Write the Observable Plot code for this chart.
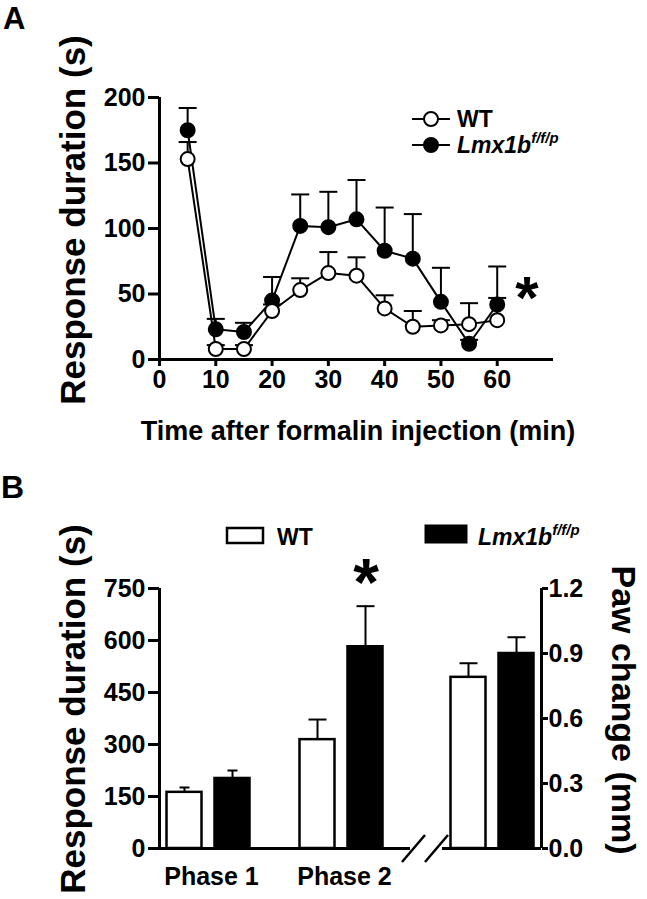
<!DOCTYPE html>
<html>
<head>
<meta charset="utf-8">
<script src="https://cdn.jsdelivr.net/npm/d3@7"></script>
<script src="https://cdn.jsdelivr.net/npm/@observablehq/plot@0.6"></script>
<style>
  html, body { margin: 0; padding: 0; background: white; }
  #chart { width: 647px; height: 899px; position: relative; }
  #chart svg { display: block; }
</style>
</head>
<body>
<div id="chart"></div>
<script>
// ---------- Panel A data ----------
const times = [5, 10, 15, 20, 25, 30, 35, 40, 45, 50, 55, 60];
const wtMean = [153, 8, 8, 37, 53, 66, 64, 39, 25, 26, 27, 30];
const wtSem  = [13, 3, 3, 5, 9, 16, 14, 10, 12, 4, 16, 17];
const koMean = [175, 23, 21, 45, 102, 101, 107, 83, 77, 44, 12, 42];
const koSem  = [17, 8, 7, 18, 24, 27, 30, 33, 34, 26, 3, 29];
const xTicksA = [0, 10, 20, 30, 40, 50, 60];
const yTicksA = [0, 50, 100, 150, 200];

// ---------- Panel B data ----------
const phases = ["Phase 1", "Phase 2"];
const wtPhase = [162, 314];
const wtPhaseSem = [14, 58];
const koPhase = [202, 582];
const koPhaseSem = [23, 117];
const pawWT = 0.79, pawWTSem = 0.065;
const koPaw = 0.90, koPawSem = 0.075;
const yTicksB = [0, 150, 300, 450, 600, 750];
const yTicksPaw = [0, 0.3, 0.6, 0.9, 1.2];

const FONT = "'Liberation Sans', Arial, Helvetica, sans-serif";

// ---------- Panel A ----------
const wt = times.map((t, i) => ({t, mean: wtMean[i], sem: wtSem[i]}));
const ko = times.map((t, i) => ({t, mean: koMean[i], sem: koSem[i]}));

function series(data, fill) {
  return [
    Plot.ruleX(data, {x: "t", y1: "mean", y2: d => d.mean + d.sem, stroke: "black", strokeWidth: 2}),
    Plot.link(data, {x1: d => d.t - 1.6, x2: d => d.t + 1.6, y1: d => d.mean + d.sem, y2: d => d.mean + d.sem, stroke: "black", strokeWidth: 2}),
    Plot.line(data, {x: "t", y: "mean", stroke: "black", strokeWidth: 2}),
    Plot.dot(data, {x: "t", y: "mean", r: 7, fill, stroke: "black", strokeWidth: 2})
  ];
}

const plotA = Plot.plot({
  width: 647, height: 455,
  marginTop: 97, marginLeft: 159, marginRight: 94, marginBottom: 96,
  x: {domain: [0, 70]},
  y: {domain: [0, 200]},
  style: {fontFamily: FONT, fontWeight: "bold", fontSize: "25px", color: "black", background: "white", overflow: "visible"},
  marks: [
    Plot.axisY({ticks: yTicksA, tickSize: 11, tickPadding: 3, strokeWidth: 3, label: null}),
    Plot.axisX({ticks: xTicksA, tickSize: 7, tickPadding: 4, strokeWidth: 3, label: null}),
    Plot.ruleX([0], {strokeWidth: 3}),
    Plot.ruleY([0], {strokeWidth: 3}),
    ...series(ko, "black"),
    ...series(wt, "white")
  ]
});

// decorations for A
{
  const s = d3.select(plotA);
  const g = s.append("g").attr("font-family", FONT).attr("font-weight", "bold").attr("fill", "black")
    .attr("text-anchor", "start");
  g.append("text").attr("x", 3).attr("y", 29).attr("font-size", 31).text("A");
  g.append("text").attr("transform", "translate(85,220) rotate(-90)").attr("text-anchor", "middle")
    .attr("font-size", 35).text("Response duration (s)");
  g.append("text").attr("x", 358).attr("y", 440).attr("text-anchor", "middle")
    .attr("font-size", 27).text("Time after formalin injection (min)");
  g.append("text").attr("x", 527).attr("y", 318).attr("text-anchor", "middle")
    .attr("font-size", 60).text("*");
  // legend
  const leg = [{y: 119, fill: "white", label: "WT"}, {y: 145, fill: "black", label: "Lmx1b"}];
  leg.forEach(l => {
    g.append("line").attr("x1", 412).attr("x2", 450).attr("y1", l.y).attr("y2", l.y)
      .attr("stroke", "black").attr("stroke-width", 2);
    g.append("circle").attr("cx", 431).attr("cy", l.y).attr("r", 7)
      .attr("fill", l.fill).attr("stroke", "black").attr("stroke-width", 2);
    const t = g.append("text").attr("x", 457).attr("y", l.y + 8).attr("font-size", 23).attr("text-anchor", "start");
    if (l.label === "WT") t.text("WT");
    else {
      t.append("tspan").attr("font-style", "italic").text("Lmx1b");
      t.append("tspan").attr("font-style", "italic").attr("font-size", 15).attr("dy", -10).text("f/f/p");
    }
  });
}

// ---------- Panel B ----------
const layoutB = {center: {"Phase 1": 49, "Phase 2": 182, "Paw": 333}, offset: 24, half: 17.5, cap: {"Phase 1": 5, "Phase 2": 9, "Paw": 9}};
const PAW_SCALE = 750 / 1.2;
const barsB = [];
phases.forEach((p, i) => {
  barsB.push({group: p, geno: "WT", value: wtPhase[i], sem: wtPhaseSem[i]});
  barsB.push({group: p, geno: "KO", value: koPhase[i], sem: koPhaseSem[i]});
});
barsB.push({group: "Paw", geno: "WT", value: pawWT * PAW_SCALE, sem: pawWTSem * PAW_SCALE});
barsB.push({group: "Paw", geno: "KO", value: koPaw * PAW_SCALE, sem: koPawSem * PAW_SCALE});
const cx = d => layoutB.center[d.group] + (d.geno === "WT" ? -layoutB.offset : layoutB.offset);

const plotB = Plot.plot({
  width: 647, height: 444,
  marginTop: 133, marginLeft: 159, marginRight: 106, marginBottom: 51,
  x: {domain: [0, 382]},
  y: {domain: [0, 750]},
  style: {fontFamily: FONT, fontWeight: "bold", fontSize: "25px", color: "black", background: "white", overflow: "visible"},
  marks: [
    Plot.axisY({ticks: yTicksB, tickSize: 11, tickPadding: 3, strokeWidth: 3, label: null}),
    Plot.axisY({anchor: "right", ticks: yTicksPaw.map(v => v * PAW_SCALE), tickFormat: d => (d / PAW_SCALE).toFixed(1),
                tickSize: 6, tickPadding: 1, strokeWidth: 3, label: null}),
    Plot.axisX({ticks: phases.map(p => layoutB.center[p] + 3), tickFormat: d => phases.find(p => layoutB.center[p] + 3 === d),
                tickSize: 0, tickPadding: 19, label: null}),
    Plot.ruleX([0, 382], {strokeWidth: 3}),
    Plot.ruleY([0], {x1: 0, x2: 251, strokeWidth: 3}),
    Plot.ruleY([0], {x1: 283, x2: 382, strokeWidth: 3}),
    Plot.ruleX(barsB, {x: cx, y1: "value", y2: d => d.value + d.sem, stroke: "black", strokeWidth: 2}),
    Plot.link(barsB, {x1: d => cx(d) - layoutB.cap[d.group], x2: d => cx(d) + layoutB.cap[d.group],
                      y1: d => d.value + d.sem, y2: d => d.value + d.sem, stroke: "black", strokeWidth: 2}),
    Plot.rectY(barsB, {x1: d => cx(d) - layoutB.half, x2: d => cx(d) + layoutB.half, y1: 0, y2: "value",
                       fill: d => d.geno === "WT" ? "white" : "black", stroke: "black", strokeWidth: 2.5})
  ]
});

{
  const s = d3.select(plotB);
  const g = s.append("g").attr("font-family", FONT).attr("font-weight", "bold").attr("fill", "black")
    .attr("text-anchor", "start");
  g.append("text").attr("x", 1).attr("y", 43).attr("font-size", 32).text("B");
  g.append("text").attr("transform", "translate(85,254) rotate(-90)").attr("text-anchor", "middle")
    .attr("font-size", 35).text("Response duration (s)");
  g.append("text").attr("transform", "translate(612,255) rotate(90)").attr("text-anchor", "middle")
    .attr("font-size", 34).text("Paw change (mm)");
  g.append("text").attr("x", 366).attr("y", 150).attr("text-anchor", "middle")
    .attr("font-size", 66).text("*");
  // axis break marks
  [[402, 425], [425, 448]].forEach(([a, b]) => {
    g.append("line").attr("x1", a).attr("y1", 407).attr("x2", b).attr("y2", 380)
      .attr("stroke", "black").attr("stroke-width", 2.5);
  });
  // legend
  g.append("rect").attr("x", 227).attr("y", 73).attr("width", 36).attr("height", 15)
    .attr("fill", "white").attr("stroke", "black").attr("stroke-width", 2.5);
  g.append("text").attr("x", 277).attr("y", 90).attr("font-size", 23).text("WT");
  g.append("rect").attr("x", 425).attr("y", 70).attr("width", 42).attr("height", 18)
    .attr("fill", "black").attr("stroke", "black").attr("stroke-width", 1);
  const t = g.append("text").attr("x", 478).attr("y", 90).attr("font-size", 23);
  t.append("tspan").attr("font-style", "italic").text("Lmx1b");
  t.append("tspan").attr("font-style", "italic").attr("font-size", 15).attr("dy", -10).text("f/f/p");
}

const chart = document.getElementById("chart");
chart.appendChild(plotA);
chart.appendChild(plotB);
</script>
</body>
</html>
